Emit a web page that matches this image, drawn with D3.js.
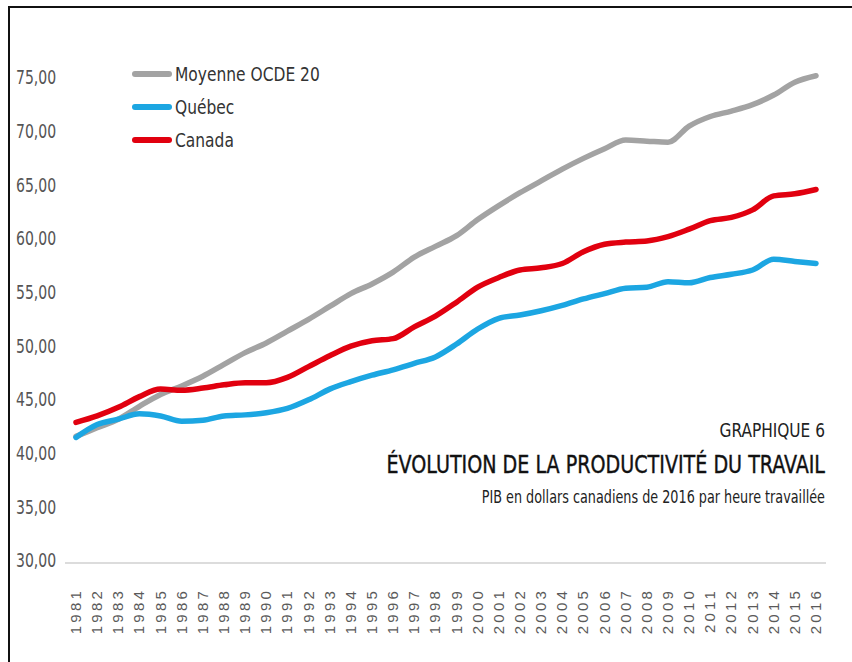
<!DOCTYPE html>
<html>
<head>
<meta charset="utf-8">
<script src="https://cdnjs.cloudflare.com/ajax/libs/d3/7.8.5/d3.min.js"></script>
<title>Évolution de la productivité du travail</title>
<style>
    body { margin: 0; background: #fff; }
    .narrow { font-family: "DejaVu Sans Condensed", "DejaVu Sans", sans-serif; }
</style>
</head>
<body>
<div id="container"></div>
<script>
// Data (PIB en dollars canadiens de 2016 par heure travaillée)
var years = d3.range(1981, 2017);
var ocde = [41.8, 42.6, 43.4, 44.6, 45.7, 46.5, 47.4, 48.5, 49.6, 50.5,
            51.6, 52.7, 53.9, 55.1, 56.0, 57.1, 58.5, 59.5, 60.5, 62.0,
            63.3, 64.5, 65.6, 66.7, 67.7, 68.6, 69.4, 69.3, 69.2, 70.7,
            71.6, 72.1, 72.7, 73.6, 74.8, 75.4];
var quebec = [41.7, 42.9, 43.4, 43.9, 43.7, 43.2, 43.3, 43.7, 43.8, 44.0,
              44.4, 45.2, 46.2, 46.9, 47.5, 48.0, 48.6, 49.2, 50.4, 51.8,
              52.8, 53.1, 53.5, 54.0, 54.6, 55.1, 55.6, 55.7, 56.2, 56.1,
              56.6, 56.9, 57.3, 58.3, 58.1, 57.9];
var canada = [43.1, 43.7, 44.5, 45.5, 46.2, 46.1, 46.3, 46.6, 46.8, 46.8,
              47.3, 48.3, 49.3, 50.2, 50.7, 50.9, 52.0, 53.0, 54.3, 55.7,
              56.6, 57.3, 57.5, 57.9, 59.0, 59.7, 59.9, 60.0, 60.4, 61.1,
              61.9, 62.2, 62.9, 64.2, 64.4, 64.8];
var seriesNames = ["Moyenne OCDE 20", "Québec", "Canada"];
var seriesColors = ["#a3a3a3", "#1ca6e2", "#e1000f"];
var yTicks = [30, 35, 40, 45, 50, 55, 60, 65, 70, 75];

var w = 852, h = 662;

var svg = d3.select("#container").append("svg")
    .attr("width", w)
    .attr("height", h);

// narrow font look: squeeze text horizontally
function squeeze(xp, yp, k) {
    return "translate(" + xp + "," + yp + ") scale(" + k + ",1)";
}

// frame lines (top and left)
svg.append("line").attr("x1", 9).attr("x2", w).attr("y1", 7).attr("y2", 7)
    .attr("stroke", "#111").attr("stroke-width", 2);
svg.append("line").attr("x1", 9).attr("x2", 9).attr("y1", 6).attr("y2", h)
    .attr("stroke", "#111").attr("stroke-width", 2);

var x = d3.scaleLinear().domain([1981, 2016]).range([76, 816]);
var y = d3.scaleLinear().domain([30, 75]).range([563, 80]);

// baseline
svg.append("line")
    .attr("x1", 65).attr("x2", 826)
    .attr("y1", y(30)).attr("y2", y(30))
    .attr("stroke", "#d0d0d0").attr("stroke-width", 1.5);

// y labels
svg.selectAll("text.ytick")
    .data(yTicks)
    .enter()
    .append("text")
    .attr("class", "ytick narrow")
    .attr("transform", function(d) { return squeeze(16, y(d) - 3, 0.78); })
    .attr("dy", "0.36em")
    .attr("font-size", 20)
    .attr("fill", "#555")
    .text(function(d) { return d3.format(".2f")(d).replace(".", ","); });

// x labels, rotated
svg.selectAll("text.xtick")
    .data(years)
    .enter()
    .append("text")
    .attr("class", "xtick")
    .attr("transform", function(d) { return "translate(" + (x(d) + 5) + ",588) rotate(-90)"; })
    .attr("text-anchor", "end")
    .attr("font-family", "Liberation Sans, Arial, sans-serif")
    .attr("font-size", 15)
    .attr("letter-spacing", 3.2)
    .attr("fill", "#5a5a5a")
    .text(function(d) { return d; });

// lines
var line = d3.line()
    .x(function(d, i) { return x(years[i]); })
    .y(function(d) { return y(d); })
    .curve(d3.curveMonotoneX);

var allSeries = [ocde, quebec, canada];
svg.selectAll("path.series")
    .data(allSeries)
    .enter()
    .append("path")
    .attr("class", "series")
    .attr("d", line)
    .attr("fill", "none")
    .attr("stroke", function(d, i) { return seriesColors[i]; })
    .attr("stroke-width", 5.5)
    .attr("stroke-linecap", "round")
    .attr("stroke-linejoin", "round");

// legend
var legend = svg.selectAll("g.legend")
    .data(seriesNames)
    .enter()
    .append("g")
    .attr("class", "legend")
    .attr("transform", function(d, i) { return "translate(133," + (74 + i * 33) + ")"; });
legend.append("line")
    .attr("x1", 2).attr("x2", 36)
    .attr("stroke", function(d, i) { return seriesColors[i]; })
    .attr("stroke-width", 6)
    .attr("stroke-linecap", "round");
legend.append("text")
    .attr("class", "narrow")
    .attr("transform", squeeze(42, 0, 0.86))
    .attr("dy", "0.36em")
    .attr("font-size", 20)
    .attr("fill", "#333")
    .text(function(d) { return d; });

// title block
svg.append("text").attr("class", "narrow")
    .attr("transform", squeeze(825, 437, 0.9))
    .attr("text-anchor", "end")
    .attr("font-size", 19)
    .attr("fill", "#222")
    .text("GRAPHIQUE 6");
svg.append("text").attr("class", "narrow")
    .attr("transform", squeeze(825, 473, 0.85))
    .attr("text-anchor", "end")
    .attr("font-size", 25)
    .attr("fill", "#111")
    .attr("stroke", "#111")
    .attr("stroke-width", 0.4)
    .text("ÉVOLUTION DE LA PRODUCTIVITÉ DU TRAVAIL");
svg.append("text").attr("class", "narrow")
    .attr("transform", squeeze(825, 503, 0.79))
    .attr("text-anchor", "end")
    .attr("font-size", 18)
    .attr("fill", "#222")
    .text("PIB en dollars canadiens de 2016 par heure travaillée");
</script>
</body>
</html>
